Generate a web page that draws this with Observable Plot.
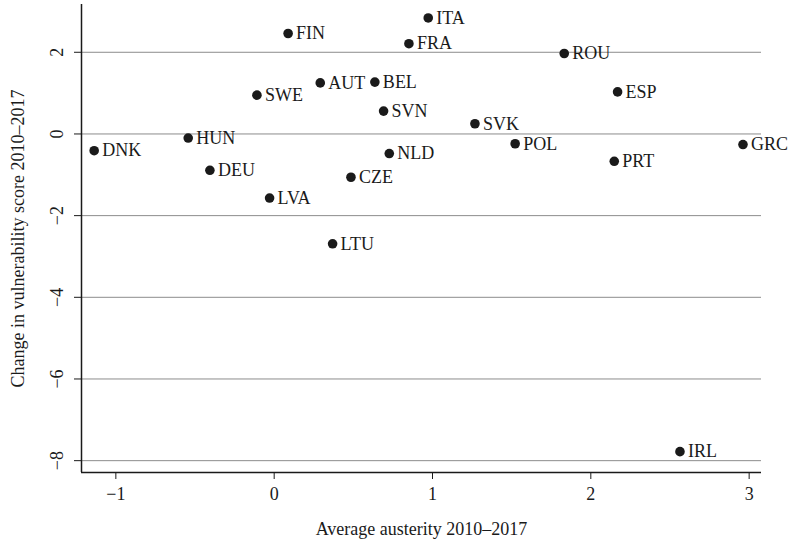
<!DOCTYPE html>
<html><head><meta charset="utf-8">
<script src="https://cdn.jsdelivr.net/npm/d3@7"></script>
<script src="https://cdn.jsdelivr.net/npm/@observablehq/plot@0.6"></script>
<style>body{margin:0;background:#fff} svg{display:block} svg text{font-family:'Liberation Serif', serif}</style>
</head><body><div id="chart"></div>
<script>
const countries = ["DNK","HUN","DEU","SWE","LVA","FIN","ITA","FRA","ROU","AUT","BEL","ESP","SVN","SVK","POL","GRC","NLD","PRT","CZE","LTU","IRL"];
const austerity = [-1.137,-0.543,-0.406,-0.109,-0.029,0.088,0.973,0.851,1.832,0.291,0.636,2.169,0.691,1.268,1.522,2.961,0.727,2.148,0.485,0.369,2.563];
const vulnerability = [-0.41,-0.10,-0.89,0.95,-1.57,2.46,2.84,2.21,1.97,1.25,1.27,1.03,0.56,0.25,-0.24,-0.26,-0.48,-0.67,-1.06,-2.69,-7.78];
const xTicks = [-1,0,1,2,3];
const yTicks = [2,0,-2,-4,-6,-8];
const xDomain = [-1.217, 3.078];
const yDomain = [-8.29, 3.17];

const data = countries.map((c,i)=>({c, x: austerity[i], y: vulnerability[i]}));
const fmt = d => d < 0 ? "\u2212" + Math.abs(d) : String(d);
const serif = "'Liberation Serif', serif";

const chart = Plot.plot({
  width: 789, height: 545,
  marginLeft: 81, marginRight: 28, marginTop: 4, marginBottom: 73,
  style: {fontFamily: serif, fontSize: "18px", color: "#1a1a1a", background: "#fff"},
  x: {domain: xDomain},
  y: {domain: yDomain},
  marks: [
    Plot.ruleY(yTicks, {stroke: "#8c8c8c", strokeWidth: 1}),
    Plot.ruleX([xDomain[0]], {stroke: "#1a1a1a", strokeWidth: 1.5}),
    Plot.ruleY([yDomain[0]], {stroke: "#1a1a1a", strokeWidth: 1.5}),
    Plot.axisX({ticks: xTicks, tickSize: 7, tickPadding: 8, tickFormat: fmt, fontFamily: serif, fontSize: 18,
      label: "Average austerity 2010\u20132017", labelAnchor: "center", labelArrow: "none", labelOffset: 62}),
    Plot.axisY({ticks: yTicks, tickSize: 7, tickPadding: 12, tickRotate: -90, tickFormat: fmt, fontFamily: serif, fontSize: 18,
      label: "Change in vulnerability score 2010\u20132017", labelAnchor: "center", labelArrow: "none", labelOffset: 70}),
    Plot.dot(data, {x: "x", y: "y", r: 4.8, fill: "#1a1a1a", stroke: "none"}),
    Plot.text(data, {x: "x", y: "y", text: "c", textAnchor: "start", dx: 8, fill: "#1a1a1a", fontFamily: serif, fontSize: 18})
  ]
});
document.getElementById("chart").appendChild(chart);
</script>
</body></html>
